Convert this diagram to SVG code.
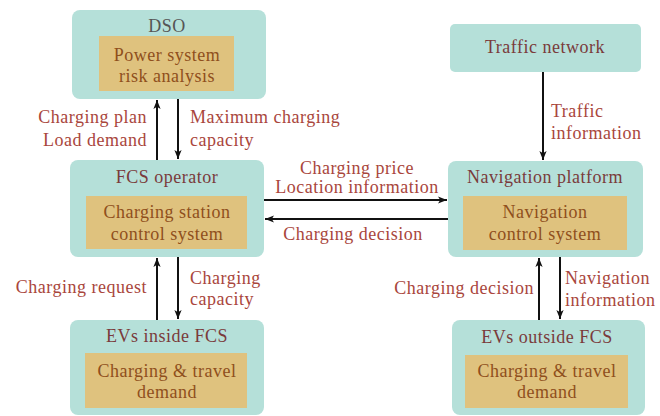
<svg xmlns="http://www.w3.org/2000/svg" width="660" height="416" viewBox="0 0 660 416">
<defs>
<marker id="ah" viewBox="0 0 10 10" refX="10" refY="5" markerWidth="9" markerHeight="9" markerUnits="userSpaceOnUse" orient="auto"><path d="M0,1 L10,5 L0,9 L2.5,5 Z" fill="#111"/></marker>
</defs>
<style>
text{font-family:"Liberation Serif",serif !important;font-size:18px;letter-spacing:0.5px}
.outer{fill:#b5e0d9}
.inner{fill:#dfc27e}
.hd{fill:#7a3b3b;text-anchor:middle}
.in{fill:#8f4f1c;text-anchor:middle}
.lb{fill:#a9463c}
.r{text-anchor:end}
.c{text-anchor:middle}
.ln{stroke:#111;stroke-width:2;fill:none;marker-end:url(#ah)}
</style>
<rect width="660" height="416" fill="#ffffff"/>
<g id="dso">
<rect class="outer" x="72" y="10" width="194" height="89" rx="8"/>
<rect class="inner" x="99" y="36" width="135" height="55"/>
<text font-family="Liberation Serif" class="hd" x="167" y="32" style="fill:#555">DSO</text>
<text font-family="Liberation Serif" class="in" x="167" y="61">Power system</text>
<text font-family="Liberation Serif" class="in" x="167" y="82">risk analysis</text>
</g>
<g id="traffic">
<rect class="outer" x="450" y="24" width="191" height="48" rx="5"/>
<text font-family="Liberation Serif" class="hd" x="545" y="53">Traffic network</text>
</g>
<g id="fcs">
<rect class="outer" x="70" y="160" width="194" height="97" rx="8"/>
<rect class="inner" x="86" y="196" width="161" height="53"/>
<text font-family="Liberation Serif" class="hd" x="167" y="183">FCS operator</text>
<text font-family="Liberation Serif" class="in" x="167" y="218">Charging station</text>
<text font-family="Liberation Serif" class="in" x="167" y="240">control system</text>
</g>
<g id="nav">
<rect class="outer" x="448" y="161" width="195" height="96" rx="8"/>
<rect class="inner" x="463" y="196" width="164" height="54"/>
<text font-family="Liberation Serif" class="hd" x="545" y="183">Navigation platform</text>
<text font-family="Liberation Serif" class="in" x="545" y="218">Navigation</text>
<text font-family="Liberation Serif" class="in" x="545" y="240">control system</text>
</g>
<g id="evin">
<rect class="outer" x="70" y="320" width="194" height="95" rx="8"/>
<rect class="inner" x="85" y="353" width="162" height="55"/>
<text font-family="Liberation Serif" class="hd" x="167" y="342">EVs inside FCS</text>
<text font-family="Liberation Serif" class="in" x="167" y="377">Charging &amp; travel</text>
<text font-family="Liberation Serif" class="in" x="167" y="398">demand</text>
</g>
<g id="evout">
<rect class="outer" x="452" y="320" width="193" height="95" rx="8"/>
<rect class="inner" x="465" y="355" width="163" height="53"/>
<text font-family="Liberation Serif" class="hd" x="547" y="343">EVs outside FCS</text>
<text font-family="Liberation Serif" class="in" x="547" y="377">Charging &amp; travel</text>
<text font-family="Liberation Serif" class="in" x="547" y="398">demand</text>
</g>
<g id="connectors">
<line class="ln" x1="157" y1="160" x2="157" y2="100"/>
<line class="ln" x1="178" y1="99" x2="178" y2="159"/>
<line class="ln" x1="543" y1="72" x2="543" y2="160"/>
<line class="ln" x1="264" y1="200" x2="447" y2="200"/>
<line class="ln" x1="448" y1="219" x2="265" y2="219"/>
<line class="ln" x1="157" y1="320" x2="157" y2="258"/>
<line class="ln" x1="178" y1="257" x2="178" y2="319"/>
<line class="ln" x1="539" y1="320" x2="539" y2="258"/>
<line class="ln" x1="560" y1="257" x2="560" y2="319"/>
</g>
<g id="labels">
<text font-family="Liberation Serif" class="lb r" x="147" y="123">Charging plan</text>
<text font-family="Liberation Serif" class="lb r" x="147" y="146">Load demand</text>
<text font-family="Liberation Serif" class="lb" x="190" y="123">Maximum charging</text>
<text font-family="Liberation Serif" class="lb" x="190" y="146">capacity</text>
<text font-family="Liberation Serif" class="lb" x="551" y="117">Traffic</text>
<text font-family="Liberation Serif" class="lb" x="551" y="139">information</text>
<text font-family="Liberation Serif" class="lb c" x="357" y="174">Charging price</text>
<text font-family="Liberation Serif" class="lb c" x="357" y="193">Location information</text>
<text font-family="Liberation Serif" class="lb c" x="353" y="240">Charging decision</text>
<text font-family="Liberation Serif" class="lb r" x="147" y="293">Charging request</text>
<text font-family="Liberation Serif" class="lb" x="190" y="284">Charging</text>
<text font-family="Liberation Serif" class="lb" x="190" y="305">capacity</text>
<text font-family="Liberation Serif" class="lb r" x="534" y="294">Charging decision</text>
<text font-family="Liberation Serif" class="lb" x="565" y="284">Navigation</text>
<text font-family="Liberation Serif" class="lb" x="565" y="306">information</text>
</g>
</svg>
